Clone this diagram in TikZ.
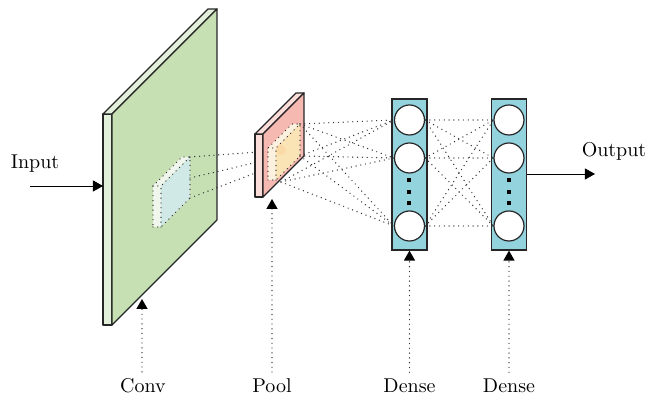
\documentclass[tikz,border=0pt]{standalone}
\usetikzlibrary{arrows.meta}

\definecolor{convfill}{RGB}{198,224,180}
\definecolor{convside}{RGB}{226,239,218}
\definecolor{patchblue}{RGB}{208,233,230}
\definecolor{patchside}{RGB}{240,246,236}
\definecolor{poolfill}{RGB}{245,185,178}
\definecolor{poolside}{RGB}{250,220,217}
\definecolor{patchyellow}{RGB}{250,228,182}
\definecolor{patchpale}{RGB}{252,240,222}
\definecolor{densefill}{RGB}{147,211,222}

\tikzset{
  link/.style={line width=0.7pt, dash pattern=on 0pt off 2.4pt, line cap=round, black!80},
  slab/.style={draw=black!85, line width=0.6pt, line join=round},
  uparrow/.style={-{Triangle[width=5.5pt,length=5pt,color=black]}},
  denselayer/.style={draw=black!85, line width=0.6pt, fill=densefill, inner sep=0pt,
    minimum width=17.5pt, minimum height=75.5pt},
  neuron/.style={circle, draw=black!85, line width=0.6pt, fill=white, inner sep=0pt, minimum size=15pt},
}

\begin{document}
\begin{tikzpicture}[x=0.5pt,y=0.5pt]
\useasboundingbox (0,0) rectangle (661,400);

% conv slab
\filldraw[slab,fill=convside] (103,75)--(112,75)--(112,286)--(103,286)--cycle;
\filldraw[slab,fill=convside] (103,286)--(112,286)--(217,391)--(208,391)--cycle;
\filldraw[slab,fill=convfill] (112,75)--(217,180)--(217,391)--(112,286)--cycle;

% receptive field on the conv slab
\fill[patchside] (153,173)--(161,173)--(161,214)--(153,214)--cycle;
\fill[patchside] (153,214)--(161,214)--(190,243)--(182,243)--cycle;
\fill[patchblue] (161,173)--(190,202)--(190,243)--(161,214)--cycle;
\draw[link] (153,173)--(161,173)--(190,202)--(190,243)--(182,243)--(153,214)--cycle;
\draw[link] (161,173)--(161,214)--(190,243);
\draw[link] (153,214)--(161,214);

\coordinate (cp1) at (190,243);
\coordinate (cp2) at (190,222);
\coordinate (cp3) at (190,202);
\coordinate (pp1) at (258,248);
\coordinate (pp2) at (258,238);
\coordinate (pp3) at (258,228);
\foreach \i in {1,2,3}{
\draw[link] (cp\i)--(pp\i);
}

% pool slab
\filldraw[slab,fill=poolside] (255,203)--(263,203)--(263,266)--(255,266)--cycle;
\filldraw[slab,fill=poolside] (255,266)--(263,266)--(304,307)--(296,307)--cycle;
\filldraw[slab,fill=poolfill] (263,203)--(304,244)--(304,307)--(263,266)--cycle;

% pooled patch
\fill[patchpale] (268,220)--(276,220)--(276,252)--(268,252)--cycle;
\fill[patchpale] (268,252)--(276,252)--(300,276)--(292,276)--cycle;
\fill[patchyellow] (276,220)--(300,244)--(300,276)--(276,252)--cycle;
\fill[orange!45,opacity=0.35] (281,250) circle (5);
\draw[link] (268,220)--(276,220)--(300,244)--(300,276)--(292,276)--(268,252)--cycle;
\draw[link] (276,220)--(276,252)--(300,276);
\draw[link] (268,252)--(276,252);

% dense layers
\node[denselayer] (dense1) at (409.5,225.5) {};
\node[denselayer] (dense2) at (509,225.5) {};
\foreach \l/\x in {1/409.5,2/509}{
\node[neuron] (d\l c1) at (\x,280) {};
\node[neuron] (d\l c2) at (\x,242) {};
\node[neuron] (d\l c3) at (\x,174) {};
\foreach \y in {197,208,220}{
\fill (\x-2,\y-2) rectangle +(4,4);
}
}

% connections
\coordinate (pq1) at (300,276);
\coordinate (pq2) at (300,244);
\coordinate (pq3) at (281,218);
\foreach \i in {1,2,3}{
\foreach \j in {1,2,3}{
\draw[link] (pq\i)--(d1c\j.west);
\draw[link] (d1c\i.east)--(d2c\j.west);
}
}

% input / output
\node (input) at (35,231) [anchor=base] {Input};
\coordinate (in-start) at (30,214);
\coordinate (conv-in) at (103,214);
\draw[-{Triangle[width=5.5pt,length=5pt]}] (in-start)--(conv-in);
\node (output) at (614,243) [anchor=base] {Output};
\coordinate (out-end) at (595,226);
\draw[-{Triangle[width=5.5pt,length=5pt]}] (dense2.east|-out-end)--(out-end);

% layer names
\node (conv) at (143,7) [anchor=base] {Conv};
\node (pool) at (272,7) [anchor=base] {Pool};
\node (dn1) at (409.5,7) [anchor=base] {Dense};
\node (dn2) at (509,7) [anchor=base] {Dense};
\coordinate (conv-tip) at (142,101);
\coordinate (pool-tip) at (272,201);
\draw[link,uparrow] (conv.north-|conv-tip)--(conv-tip);
\draw[link,uparrow] (pool)--(pool-tip);
\draw[link,uparrow] (dn1)--(dense1.south);
\draw[link,uparrow] (dn2)--(dense2.south);
\end{tikzpicture}
\end{document}
